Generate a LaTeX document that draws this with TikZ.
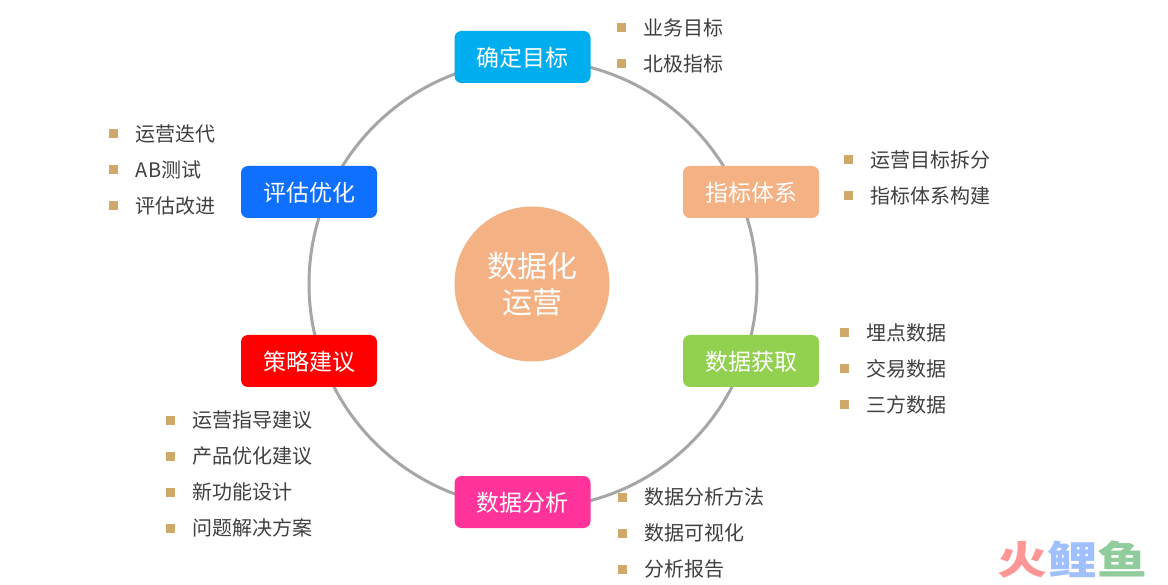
\documentclass[tikz,border=0pt]{standalone}
\usepackage{fontspec}
\setmainfont{Noto Sans CJK SC}
\usetikzlibrary{positioning}
\definecolor{sky}{RGB}{0,174,239}
\definecolor{peach}{RGB}{244,177,131}
\definecolor{leaf}{RGB}{146,208,80}
\definecolor{rose}{RGB}{255,51,153}
\definecolor{azure}{RGB}{15,111,255}
\definecolor{ringgray}{RGB}{166,166,166}
\definecolor{tan}{RGB}{207,169,106}
\definecolor{ink}{RGB}{64,64,64}
\definecolor{brandred}{RGB}{255,150,150}
\definecolor{brandblue}{RGB}{160,191,255}
\definecolor{brandgreen}{RGB}{144,204,156}
\tikzset{
    stage/.style={rounded corners=7pt, minimum width=136pt, minimum height=52pt, inner sep=0pt,
        text height=24pt, text depth=4.6pt, text=white, font=\fontsize{23}{27}\selectfont},
    sq/.style={fill=tan, minimum size=9pt, inner sep=0pt},
    item/.style={right=18pt of #1, inner sep=0pt, text=ink, font=\fontsize{20}{24}\selectfont},
}

\begin{document}
\begin{tikzpicture}[x=1pt, y=-1pt]
    \useasboundingbox[fill=white] (0, 0) rectangle (1168, 585);

    \node[circle, fill=peach, minimum size=155pt, inner sep=0pt, text=white, align=center,
        font=\fontsize{30}{36}\selectfont] (hub) at (532, 284) {数据化\\运营};
    \draw[ringgray, line width=3pt] (533, 284) circle (224pt);

    \node[stage, fill=sky] (goal) at (522.5, 57) {确定目标};
    \node[stage, fill=peach] (metric) at (751, 192) {指标体系};
    \node[stage, fill=leaf] (collect) at (751, 361) {数据获取};
    \node[stage, fill=rose] (analyse) at (522.5, 502) {数据分析};
    \node[stage, fill=red] (advice) at (309, 361) {策略建议};
    \node[stage, fill=azure] (review) at (309, 192) {评估优化};

    % goal
    \node[sq] (g1) at (621, 28) {};
    \node[item=g1] (gt1) {业务目标};
    \node[sq] (g2) at (621, 64) {};
    \node[item=g2] (gt2) {北极指标};

    % metric
    \node[sq] (m1) at (848, 160) {};
    \node[item=m1] (mt1) {运营目标拆分};
    \node[sq] (m2) at (848, 196) {};
    \node[item=m2] (mt2) {指标体系构建};

    % collect
    \node[sq] (c1) at (844, 333) {};
    \node[item=c1] (ct1) {埋点数据};
    \node[sq] (c2) at (844, 369) {};
    \node[item=c2] (ct2) {交易数据};
    \node[sq] (c3) at (844, 405) {};
    \node[item=c3] (ct3) {三方数据};

    % analyse
    \node[sq] (a1) at (622, 497) {};
    \node[item=a1] (at1) {数据分析方法};
    \node[sq] (a2) at (622, 533) {};
    \node[item=a2] (at2) {数据可视化};
    \node[sq] (a3) at (622, 569) {};
    \node[item=a3] (at3) {分析报告};

    % advice
    \node[sq] (s1) at (170, 420) {};
    \node[item=s1] (st1) {运营指导建议};
    \node[sq] (s2) at (170, 456) {};
    \node[item=s2] (st2) {产品优化建议};
    \node[sq] (s3) at (170, 492) {};
    \node[item=s3] (st3) {新功能设计};
    \node[sq] (s4) at (170, 528) {};
    \node[item=s4] (st4) {问题解决方案};

    % review
    \node[sq] (r1) at (113, 134) {};
    \node[item=r1] (rt1) {运营迭代};
    \node[sq] (r2) at (113, 170) {};
    \node[item=r2] (rt2) {AB测试};
    \node[sq] (r3) at (113, 206) {};
    \node[item=r3] (rt3) {评估改进};

    \node[inner sep=0pt, transform shape, xscale=1.28, font=\fontsize{39}{42}\bfseries] (brand) at (1072.5, 560)
        {\textcolor{brandred}{火}\textcolor{brandblue}{鲤}\textcolor{brandgreen}{鱼}};
\end{tikzpicture}
\end{document}
